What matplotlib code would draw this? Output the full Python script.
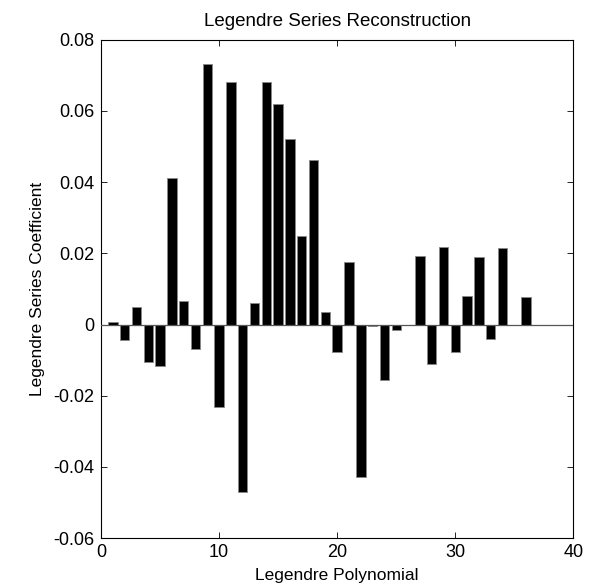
import matplotlib as mpl
mpl.use("Agg")
import matplotlib.pyplot as plt
import numpy as np

# Legendre series coefficients
orders = np.arange(1, 37)
coeffs = [
    0.0007, -0.0042, 0.0049, -0.0104, -0.0116, 0.0411, 0.0066, -0.0068,
    0.0733, -0.0232, 0.0682, -0.0470, 0.0060, 0.0682, 0.0621, 0.0520,
    0.0250, 0.0463, 0.0034, -0.0077, 0.0177, -0.0427, -0.0005, -0.0156,
    -0.0016, 0.0, 0.0193, -0.0110, 0.0218, -0.0078, 0.0080, 0.0191,
    -0.0040, 0.0215, 0.0, 0.0077,
]
xticks = [0, 10, 20, 30, 40]
yticks = [-0.06, -0.04, -0.02, 0, 0.02, 0.04, 0.06, 0.08]
yticklabels = ["-0.06", "-0.04", "-0.02", "0", "0.02", "0.04", "0.06", "0.08"]

plt.rcParams["font.family"] = ["Liberation Sans", "DejaVu Sans"]

fig = plt.figure(figsize=(5.89, 5.85), dpi=100)
ax = fig.add_axes([0.1715, 0.080, 0.802, 0.852])

ax.bar(orders, coeffs, width=0.8, color="black", edgecolor="#888888",
       linewidth=0.6, zorder=2)
ax.axhline(0, color="#555555", lw=0.9, zorder=3)

ax.set_xlim(0, 40)
ax.set_ylim(-0.06, 0.08)
ax.set_xticks(xticks)
ax.set_yticks(yticks)
ax.set_yticklabels(yticklabels)
ax.tick_params(direction="in", top=True, right=True, length=4, width=0.6,
               labelsize=13)
ax.tick_params(axis="y", pad=5)
ax.tick_params(axis="x", pad=4)
for sp in ax.spines.values():
    sp.set_linewidth(0.8)

ax.set_title("Legendre Series Reconstruction", fontsize=13.5, pad=10)
ax.set_xlabel("Legendre Polynomial", fontsize=12.5, labelpad=5)
ax.set_ylabel("Legendre Series Coefficient", fontsize=12.5, labelpad=6)

fig.savefig("out.png", dpi=100)
